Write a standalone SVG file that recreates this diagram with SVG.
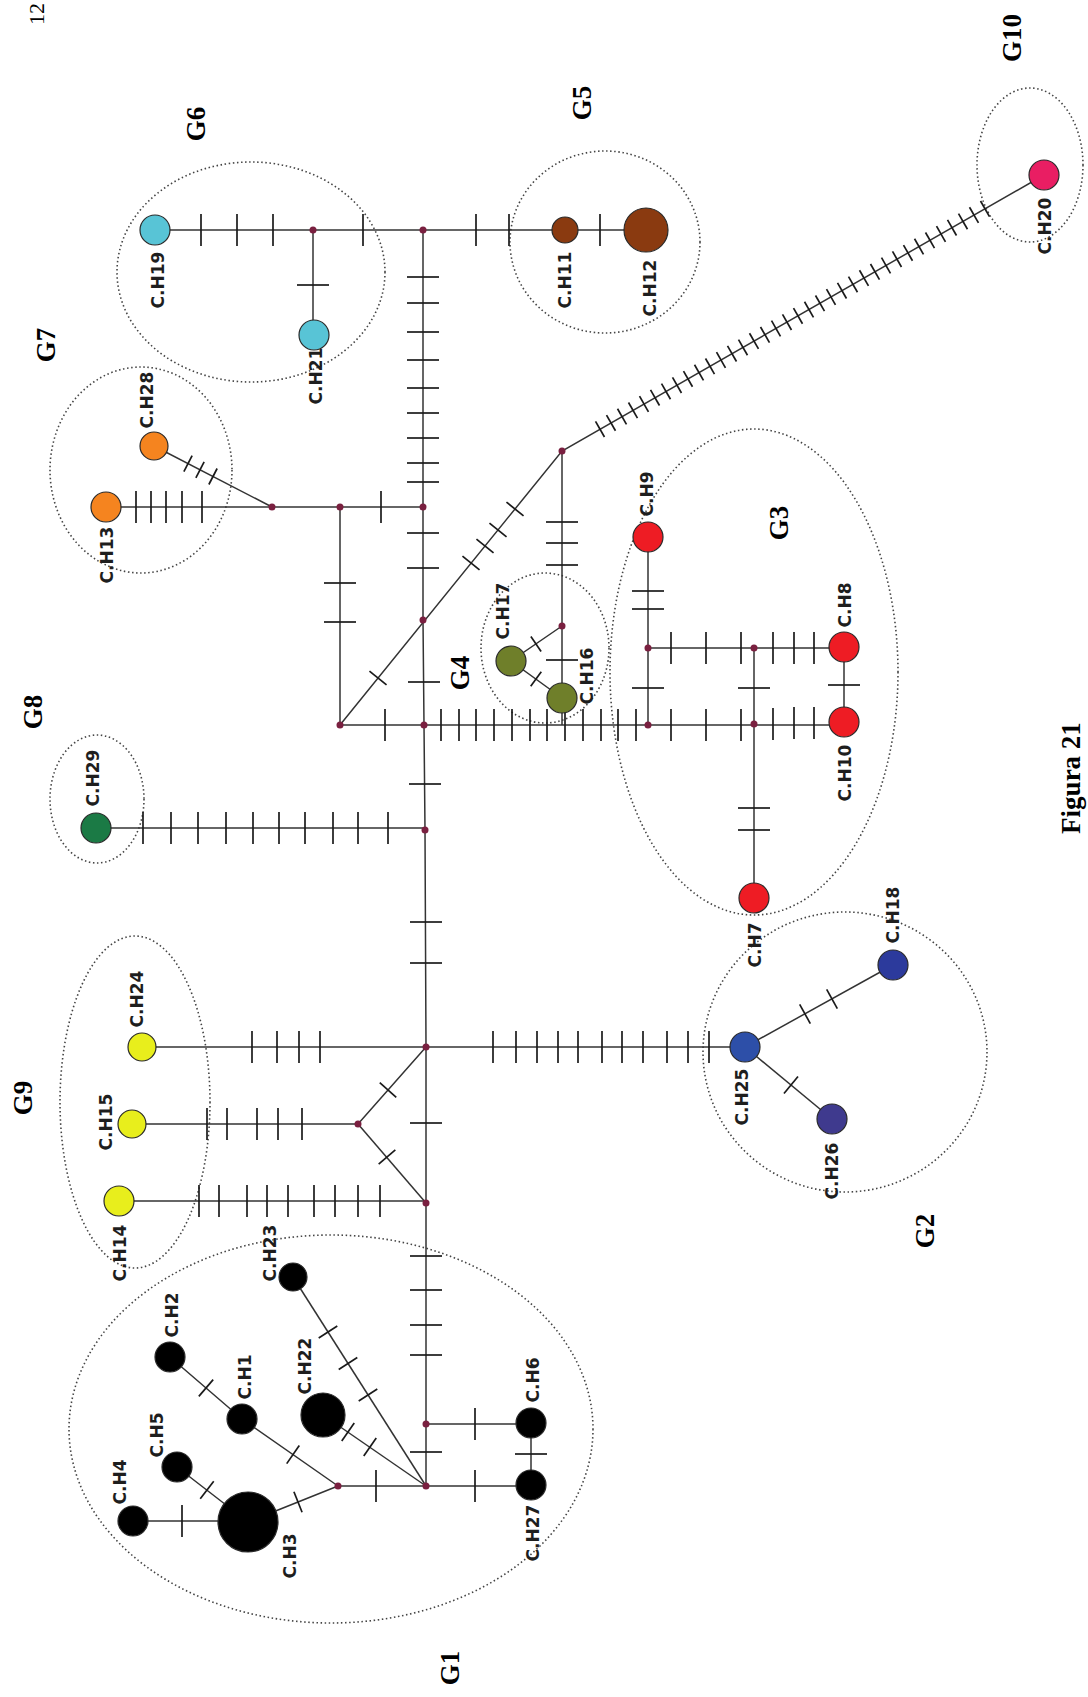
<svg xmlns="http://www.w3.org/2000/svg" xmlns:xlink="http://www.w3.org/1999/xlink" width="1088" height="1697" viewBox="0 0 1088 1697">
<style>
.edge path,.edge polyline{fill:none;stroke:#333;stroke-width:1.5}
.tk{stroke:#1a1a1a;stroke-width:1.7;fill:none}
.grpE{fill:none;stroke:#444;stroke-width:1.6;stroke-dasharray:1.5 2.6}
.nd circle{stroke:#2a2a2a;stroke-width:1.2}
.jn{fill:#7a2040}
.lbl{font-family:"DejaVu Sans",sans-serif;font-weight:bold;font-size:17px;fill:#1e1e1e;text-anchor:middle}
.grp{font-family:"Liberation Serif",serif;font-weight:bold;font-size:27px;fill:#000;text-anchor:middle}
.cyan{fill:#58c4d6}.brown{fill:#8a3a10}.orange{fill:#f5841f}.green{fill:#1b7a45}.olive{fill:#6f7f2a}.red{fill:#ee1c24}.pink{fill:#e91e63}.yellow{fill:#e8ee1c}.blue{fill:#2d4fa8}.navy{fill:#2c3a9c}.indigo{fill:#3f3a8e}.black{fill:#000}
</style>
<defs>
<path id="tv" class="tk" d="M0,-16V16"/>
<path id="th" class="tk" d="M-16,0H16"/>
<path id="td" class="tk" d="M0,-11V11"/>
<path id="ts" class="tk" d="M0,-9V9"/>
</defs>
<rect width="1088" height="1697" fill="#fff"/>

<text transform="translate(44,25) rotate(-90)" font-family="Liberation Serif,serif" font-size="22" fill="#000">12</text>

<g id="groups">
<ellipse id="G1" class="grpE" cx="331" cy="1429" rx="262" ry="194"/>
<ellipse id="G2" class="grpE" cx="845" cy="1052" rx="142" ry="140"/>
<ellipse id="G3" class="grpE" cx="754" cy="672" rx="144" ry="243"/>
<ellipse id="G4" class="grpE" cx="545" cy="648" rx="64" ry="75"/>
<ellipse id="G5" class="grpE" cx="605" cy="242" rx="95" ry="91"/>
<ellipse id="G6" class="grpE" cx="251" cy="272" rx="134" ry="110"/>
<ellipse id="G7" class="grpE" cx="141" cy="470" rx="91" ry="103"/>
<ellipse id="G8" class="grpE" cx="97" cy="799" rx="47" ry="64"/>
<ellipse id="G9" class="grpE" cx="135" cy="1102" rx="75" ry="166"/>
<ellipse id="G10" class="grpE" cx="1030" cy="165" rx="53" ry="77"/>
<text class="grp" transform="translate(459,1668) rotate(-90)">G1</text>
<text class="grp" transform="translate(934,1231) rotate(-90)">G2</text>
<text class="grp" transform="translate(788,523) rotate(-90)">G3</text>
<text class="grp" transform="translate(469,673) rotate(-90)">G4</text>
<text class="grp" transform="translate(591,103) rotate(-90)">G5</text>
<text class="grp" transform="translate(205,124) rotate(-90)">G6</text>
<text class="grp" transform="translate(55,345) rotate(-90)">G7</text>
<text class="grp" transform="translate(42,712) rotate(-90)">G8</text>
<text class="grp" transform="translate(32,1098) rotate(-90)">G9</text>
<text class="grp" transform="translate(1021,38) rotate(-90)">G10</text>
</g>

<g id="connectors" class="edge">
<path d="M155,230H646"/>
<path d="M313,230V335"/>
<polyline points="423,230 423,507 423,620 424,725 425,830 426,1047 426,1203 426,1424 426,1486"/>
<path d="M106,507H423"/>
<path d="M154,446L272,507"/>
<path d="M340,507V725H424"/>
<path d="M340,725L562,451L1044,175"/>
<path d="M562,451V725"/>
<path d="M562,626L511,661L562,698"/>
<path d="M424,725H844"/>
<path d="M648,537V725"/>
<path d="M648,648H844"/>
<path d="M754,648V898"/>
<path d="M844,647V722"/>
<path d="M96,828H425"/>
<path d="M142,1047H745"/>
<path d="M745,1047L893,965"/>
<path d="M745,1047L832,1119"/>
<path d="M132,1124H358L426,1047"/>
<path d="M358,1124L426,1203"/>
<path d="M119,1201H426"/>
<path d="M426,1424H531V1486"/>
<path d="M338,1486H531"/>
<path d="M133,1521H248"/>
<path d="M177,1467L248,1522L338,1486"/>
<path d="M170,1357L242,1419L338,1486"/>
<path d="M323,1415L426,1486"/>
<path d="M293,1277L426,1486"/>

<g id="ticks">
<use href="#tv" x="201" y="230"/><use href="#tv" x="237" y="230"/><use href="#tv" x="273" y="230"/>
<use href="#tv" x="363" y="230"/><use href="#tv" x="476" y="230"/><use href="#tv" x="509" y="230"/><use href="#tv" x="600" y="230"/>
<use href="#th" x="313" y="285"/>
<use href="#th" x="423" y="277"/><use href="#th" x="423" y="303"/><use href="#th" x="423" y="332"/><use href="#th" x="423" y="360"/><use href="#th" x="423" y="388"/><use href="#th" x="423" y="413"/><use href="#th" x="423" y="438"/><use href="#th" x="423" y="463"/><use href="#th" x="423" y="482"/>
<use href="#th" x="423" y="533"/><use href="#th" x="423" y="568"/><use href="#th" x="424" y="682"/><use href="#th" x="425" y="784"/>
<use href="#th" x="426" y="922"/><use href="#th" x="426" y="963"/><use href="#th" x="426" y="1123"/>
<use href="#th" x="426" y="1256"/><use href="#th" x="426" y="1290"/><use href="#th" x="426" y="1325"/><use href="#th" x="426" y="1355"/><use href="#th" x="426" y="1452"/>
<use href="#tv" x="136" y="507"/><use href="#tv" x="151" y="507"/><use href="#tv" x="166" y="507"/><use href="#tv" x="182" y="507"/><use href="#tv" x="202" y="507"/>
<use href="#tv" x="381" y="507"/>
<use href="#ts" transform="translate(188,463.6) rotate(27.3)"/><use href="#ts" transform="translate(200,469.8) rotate(27.3)"/><use href="#ts" transform="translate(213,476.5) rotate(27.3)"/>
<use href="#th" x="340" y="583"/><use href="#th" x="340" y="622"/>
<use href="#tv" x="385" y="725"/>
<use href="#td" transform="translate(378,678) rotate(-51)"/><use href="#td" transform="translate(471,563) rotate(-51)"/><use href="#td" transform="translate(485,546) rotate(-51)"/><use href="#td" transform="translate(498,530) rotate(-51)"/><use href="#td" transform="translate(515,509) rotate(-51)"/>
<use href="#ts" transform="translate(600,429.2) rotate(-29.8)"/><use href="#ts" transform="translate(611,422.9) rotate(-29.8)"/><use href="#ts" transform="translate(622,416.6) rotate(-29.8)"/><use href="#ts" transform="translate(633,410.3) rotate(-29.8)"/><use href="#ts" transform="translate(644,404) rotate(-29.8)"/><use href="#ts" transform="translate(655,397.7) rotate(-29.8)"/><use href="#ts" transform="translate(666,391.4) rotate(-29.8)"/><use href="#ts" transform="translate(677,385.2) rotate(-29.8)"/><use href="#ts" transform="translate(688,378.9) rotate(-29.8)"/><use href="#ts" transform="translate(699,372.6) rotate(-29.8)"/><use href="#ts" transform="translate(710,366.3) rotate(-29.8)"/><use href="#ts" transform="translate(721,360) rotate(-29.8)"/>
<use href="#ts" transform="translate(732,353.7) rotate(-29.8)"/><use href="#ts" transform="translate(743,347.4) rotate(-29.8)"/><use href="#ts" transform="translate(754,341.1) rotate(-29.8)"/><use href="#ts" transform="translate(765,334.8) rotate(-29.8)"/><use href="#ts" transform="translate(776,328.5) rotate(-29.8)"/><use href="#ts" transform="translate(787,322.2) rotate(-29.8)"/><use href="#ts" transform="translate(798,315.9) rotate(-29.8)"/><use href="#ts" transform="translate(809,309.6) rotate(-29.8)"/><use href="#ts" transform="translate(820,303.3) rotate(-29.8)"/><use href="#ts" transform="translate(831,297) rotate(-29.8)"/><use href="#ts" transform="translate(842,290.7) rotate(-29.8)"/><use href="#ts" transform="translate(853,284.4) rotate(-29.8)"/>
<use href="#ts" transform="translate(864,278.1) rotate(-29.8)"/><use href="#ts" transform="translate(875,271.8) rotate(-29.8)"/><use href="#ts" transform="translate(886,265.5) rotate(-29.8)"/><use href="#ts" transform="translate(897,259.2) rotate(-29.8)"/><use href="#ts" transform="translate(908,252.9) rotate(-29.8)"/><use href="#ts" transform="translate(919,246.6) rotate(-29.8)"/><use href="#ts" transform="translate(930,240.3) rotate(-29.8)"/><use href="#ts" transform="translate(941,234) rotate(-29.8)"/><use href="#ts" transform="translate(952,227.7) rotate(-29.8)"/><use href="#ts" transform="translate(963,221.4) rotate(-29.8)"/><use href="#ts" transform="translate(974,215.1) rotate(-29.8)"/><use href="#ts" transform="translate(985,208.8) rotate(-29.8)"/>
<use href="#th" x="562" y="522"/><use href="#th" x="562" y="543"/><use href="#th" x="562" y="565"/><use href="#th" x="562" y="660"/>
<use href="#ts" transform="translate(536,644) rotate(-34.5)"/><use href="#ts" transform="translate(536,679) rotate(36)"/>
<use href="#tv" x="441" y="725"/><use href="#tv" x="459" y="725"/><use href="#tv" x="476" y="725"/><use href="#tv" x="494" y="725"/><use href="#tv" x="512" y="725"/><use href="#tv" x="530" y="725"/><use href="#tv" x="547" y="725"/><use href="#tv" x="565" y="725"/><use href="#tv" x="583" y="725"/><use href="#tv" x="601" y="725"/><use href="#tv" x="618" y="725"/><use href="#tv" x="636" y="725"/>
<use href="#th" x="648" y="591"/><use href="#th" x="648" y="609"/><use href="#th" x="648" y="688"/>
<use href="#tv" x="671" y="648"/><use href="#tv" x="706" y="648"/><use href="#tv" x="741" y="648"/><use href="#tv" x="773" y="648"/><use href="#tv" x="794" y="648"/><use href="#tv" x="814" y="648"/>
<use href="#tv" x="671" y="725"/><use href="#tv" x="706" y="725"/><use href="#tv" x="741" y="725"/><use href="#tv" x="773" y="724"/><use href="#tv" x="794" y="723"/><use href="#tv" x="814" y="723"/>
<use href="#th" x="844" y="685"/><use href="#th" x="754" y="688"/><use href="#th" x="754" y="808"/><use href="#th" x="754" y="830"/>
<use href="#tv" x="143" y="828"/><use href="#tv" x="171" y="828"/><use href="#tv" x="198" y="828"/><use href="#tv" x="226" y="828"/><use href="#tv" x="253" y="828"/><use href="#tv" x="279" y="828"/><use href="#tv" x="305" y="828"/><use href="#tv" x="333" y="828"/><use href="#tv" x="358" y="828"/><use href="#tv" x="388" y="828"/>
<use href="#tv" x="252" y="1047"/><use href="#tv" x="277" y="1047"/><use href="#tv" x="299" y="1047"/><use href="#tv" x="320" y="1047"/>
<use href="#tv" x="493" y="1047"/><use href="#tv" x="516" y="1047"/><use href="#tv" x="537" y="1047"/><use href="#tv" x="558" y="1047"/><use href="#tv" x="578" y="1047"/><use href="#tv" x="602" y="1047"/><use href="#tv" x="622" y="1047"/><use href="#tv" x="643" y="1047"/><use href="#tv" x="667" y="1047"/><use href="#tv" x="688" y="1047"/><use href="#tv" x="709" y="1047"/>
<use href="#td" transform="translate(805,1014) rotate(-29)"/><use href="#td" transform="translate(832,999) rotate(-29)"/><use href="#td" transform="translate(791,1085) rotate(39.6)"/>
<use href="#tv" x="207" y="1124"/><use href="#tv" x="227" y="1124"/><use href="#tv" x="257" y="1124"/><use href="#tv" x="278" y="1124"/><use href="#tv" x="302" y="1124"/>
<use href="#td" transform="translate(388,1090) rotate(-48.6)"/><use href="#td" transform="translate(387,1157) rotate(49.3)"/>
<use href="#tv" x="199" y="1201"/><use href="#tv" x="219" y="1201"/><use href="#tv" x="247" y="1201"/><use href="#tv" x="267" y="1201"/><use href="#tv" x="288" y="1201"/><use href="#tv" x="314" y="1201"/><use href="#tv" x="335" y="1201"/><use href="#tv" x="358" y="1201"/><use href="#tv" x="380" y="1201"/>
<use href="#tv" x="475" y="1424"/><use href="#tv" x="475" y="1486"/><use href="#th" x="531" y="1454"/><use href="#tv" x="376" y="1486"/>
<use href="#tv" x="182" y="1521"/>
<use href="#td" transform="translate(207,1490) rotate(37.8)"/><use href="#td" transform="translate(298,1502) rotate(-21.8)"/>
<use href="#td" transform="translate(206,1388) rotate(40.7)"/><use href="#td" transform="translate(293,1454.6) rotate(34.9)"/>
<use href="#td" transform="translate(348,1432) rotate(34.6)"/><use href="#td" transform="translate(370,1447) rotate(34.6)"/>
<use href="#td" transform="translate(328,1332) rotate(57.5)"/><use href="#td" transform="translate(348,1363.5) rotate(57.5)"/><use href="#td" transform="translate(368,1395) rotate(57.5)"/>
</g>

<g id="junctions">
<circle class="jn" cx="313" cy="230" r="3.5"/><circle class="jn" cx="423" cy="230" r="3.5"/><circle class="jn" cx="272" cy="507" r="3.5"/><circle class="jn" cx="340" cy="507" r="3.5"/><circle class="jn" cx="423" cy="507" r="3.5"/><circle class="jn" cx="340" cy="725" r="3.5"/><circle class="jn" cx="423" cy="620" r="3.5"/><circle class="jn" cx="424" cy="725" r="3.5"/><circle class="jn" cx="562" cy="451" r="3.5"/><circle class="jn" cx="562" cy="626" r="3.5"/><circle class="jn" cx="648" cy="648" r="3.5"/><circle class="jn" cx="648" cy="725" r="3.5"/><circle class="jn" cx="754" cy="648" r="3.5"/><circle class="jn" cx="754" cy="724" r="3.5"/><circle class="jn" cx="425" cy="830" r="3.5"/><circle class="jn" cx="426" cy="1047" r="3.5"/><circle class="jn" cx="358" cy="1124" r="3.5"/><circle class="jn" cx="426" cy="1203" r="3.5"/><circle class="jn" cx="426" cy="1424" r="3.5"/><circle class="jn" cx="426" cy="1486" r="3.5"/><circle class="jn" cx="338" cy="1486" r="3.5"/>
</g>
</g>

<g id="nodes">
<g id="CH19" class="nd"><circle class="cyan" cx="155" cy="230" r="15"/><text class="lbl" font-size="19" transform="translate(164,280) rotate(-90)">C.H19</text></g>
<g id="CH21" class="nd"><circle class="cyan" cx="314" cy="335" r="15"/><text class="lbl" font-size="19" transform="translate(322,376) rotate(-90)">C.H21</text></g>
<g id="CH11" class="nd"><circle class="brown" cx="565" cy="230" r="13"/><text class="lbl" transform="translate(571,280) rotate(-90)">C.H11</text></g>
<g id="CH12" class="nd"><circle class="brown" cx="646" cy="230" r="22"/><text class="lbl" transform="translate(656,288) rotate(-90)">C.H12</text></g>
<g id="CH20" class="nd"><circle class="pink" cx="1044" cy="175" r="15"/><text class="lbl" transform="translate(1051,226) rotate(-90)">C.H20</text></g>
<g id="CH28" class="nd"><circle class="orange" cx="154" cy="446" r="14"/><text class="lbl" transform="translate(153,400) rotate(-90)">C.H28</text></g>
<g id="CH13" class="nd"><circle class="orange" cx="106" cy="507" r="15"/><text class="lbl" transform="translate(113,555) rotate(-90)">C.H13</text></g>
<g id="CH29" class="nd"><circle class="green" cx="96" cy="828" r="15"/><text class="lbl" transform="translate(99,778) rotate(-90)">C.H29</text></g>
<g id="CH17" class="nd"><circle class="olive" cx="511" cy="661" r="15"/><text class="lbl" transform="translate(509,611) rotate(-90)">C.H17</text></g>
<g id="CH16" class="nd"><circle class="olive" cx="562" cy="698" r="15"/><text class="lbl" transform="translate(593,676) rotate(-90)">C.H16</text></g>
<g id="CH9" class="nd"><circle class="red" cx="648" cy="537" r="15"/><text class="lbl" transform="translate(653,494) rotate(-90)">C.H9</text></g>
<g id="CH8" class="nd"><circle class="red" cx="844" cy="647" r="15"/><text class="lbl" transform="translate(851,605) rotate(-90)">C.H8</text></g>
<g id="CH10" class="nd"><circle class="red" cx="844" cy="722" r="15"/><text class="lbl" transform="translate(851,773) rotate(-90)">C.H10</text></g>
<g id="CH7" class="nd"><circle class="red" cx="754" cy="898" r="15"/><text class="lbl" transform="translate(761,945) rotate(-90)">C.H7</text></g>
<g id="CH25" class="nd"><circle class="blue" cx="745" cy="1047" r="15"/><text class="lbl" transform="translate(748,1097) rotate(-90)">C.H25</text></g>
<g id="CH18" class="nd"><circle class="navy" cx="893" cy="965" r="15"/><text class="lbl" transform="translate(899,915) rotate(-90)">C.H18</text></g>
<g id="CH26" class="nd"><circle class="indigo" cx="832" cy="1119" r="15"/><text class="lbl" transform="translate(838,1171) rotate(-90)">C.H26</text></g>
<g id="CH24" class="nd"><circle class="yellow" cx="142" cy="1047" r="14"/><text class="lbl" transform="translate(143,999) rotate(-90)">C.H24</text></g>
<g id="CH15" class="nd"><circle class="yellow" cx="132" cy="1124" r="14"/><text class="lbl" transform="translate(112,1122) rotate(-90)">C.H15</text></g>
<g id="CH14" class="nd"><circle class="yellow" cx="119" cy="1201" r="15"/><text class="lbl" transform="translate(126,1253) rotate(-90)">C.H14</text></g>
<g id="CH23" class="nd"><circle class="black" cx="293" cy="1277" r="14"/><text class="lbl" transform="translate(276,1253) rotate(-90)">C.H23</text></g>
<g id="CH2" class="nd"><circle class="black" cx="170" cy="1357" r="15"/><text class="lbl" transform="translate(178,1315) rotate(-90)">C.H2</text></g>
<g id="CH1" class="nd"><circle class="black" cx="242" cy="1419" r="15"/><text class="lbl" transform="translate(251,1377) rotate(-90)">C.H1</text></g>
<g id="CH22" class="nd"><circle class="black" cx="323" cy="1415" r="22"/><text class="lbl" transform="translate(311,1366) rotate(-90)">C.H22</text></g>
<g id="CH5" class="nd"><circle class="black" cx="177" cy="1467" r="15"/><text class="lbl" transform="translate(163,1435) rotate(-90)">C.H5</text></g>
<g id="CH4" class="nd"><circle class="black" cx="133" cy="1521" r="15"/><text class="lbl" transform="translate(126,1482) rotate(-90)">C.H4</text></g>
<g id="CH3" class="nd"><circle class="black" cx="248" cy="1522" r="30"/><text class="lbl" transform="translate(296,1556) rotate(-90)">C.H3</text></g>
<g id="CH6" class="nd"><circle class="black" cx="531" cy="1423" r="15"/><text class="lbl" transform="translate(539,1380) rotate(-90)">C.H6</text></g>
<g id="CH27" class="nd"><circle class="black" cx="531" cy="1485" r="15"/><text class="lbl" transform="translate(539,1533) rotate(-90)">C.H27</text></g>
</g>

<text class="grp" transform="translate(1080,778) rotate(-90)">Figura 21</text>
</svg>
